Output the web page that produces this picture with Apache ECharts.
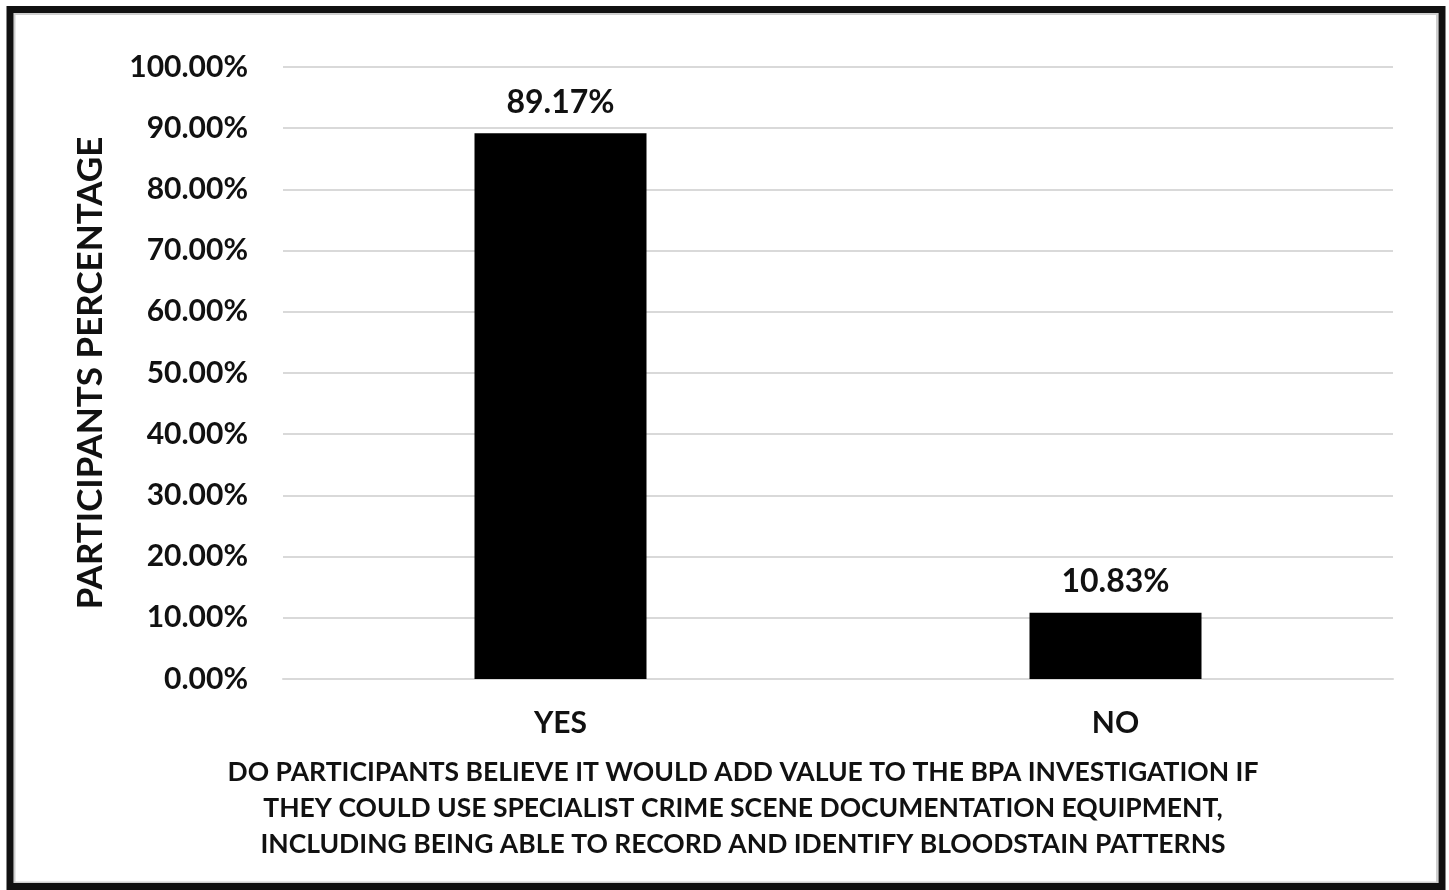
<!DOCTYPE html>
<html>
<head>
<meta charset="utf-8">
<script src="https://cdn.jsdelivr.net/npm/echarts@6/dist/echarts.min.js"></script>
<style>
  html, body { margin: 0; padding: 0; background: #ffffff; }
  #chart { width: 1449px; height: 890px; }
</style>
</head>
<body>
<div id="chart"></div>
<script>
// Survey answers and share of participants (%)
const categories = ['YES', 'NO'];
const percentages = [89.17, 10.83];
const yTicks = [0, 10, 20, 30, 40, 50, 60, 70, 80, 90, 100];
const xAxisTitle = 'DO PARTICIPANTS BELIEVE IT WOULD ADD VALUE TO THE BPA INVESTIGATION IF\nTHEY COULD USE SPECIALIST CRIME SCENE DOCUMENTATION EQUIPMENT,\nINCLUDING BEING ABLE TO RECORD AND IDENTIFY BLOODSTAIN PATTERNS';
const yAxisTitle = 'PARTICIPANTS PERCENTAGE';

const FONT = 'Lato, "Open Sans", sans-serif';
const chart = echarts.init(document.getElementById('chart'), null, { renderer: 'canvas' });

chart.setOption({
  backgroundColor: '#ffffff',
  animation: false,
  graphic: [
    {
      // thin grey inner edge of the frame
      type: 'rect',
      shape: { x: 14.5, y: 14, width: 1422.5, height: 868.5 },
      style: { fill: 'none', stroke: '#cfcfcf', lineWidth: 2 },
      z: 99
    },
    {
      type: 'rect',
      shape: { x: 10, y: 9.5, width: 1432, height: 877 },
      style: { fill: 'none', stroke: '#111111', lineWidth: 7 },
      z: 100
    },
    {
      // category axis title, centred on the whole chart box
      type: 'text',
      x: 743,
      y: 754,
      style: {
        text: xAxisTitle,
        fill: '#111',
        font: 'bold 26.5px ' + FONT,
        lineHeight: 36,
        align: 'center',
        verticalAlign: 'top'
      }
    }
  ],
  grid: { left: 283, right: 56, top: 67, bottom: 211 },
  xAxis: {
    type: 'category',
    data: categories,
    axisLine: { show: true, lineStyle: { color: '#d9d9d9', width: 2 } },
    axisTick: { show: false },
    axisLabel: { color: '#111', fontFamily: FONT, fontWeight: 'bold', fontSize: 30, margin: 29 }
  },
  yAxis: {
    type: 'value',
    min: yTicks[0],
    max: yTicks[yTicks.length - 1],
    interval: yTicks[1] - yTicks[0],
    axisLine: { show: false },
    axisTick: { show: false },
    splitLine: { lineStyle: { color: '#d9d9d9', width: 2 } },
    axisLabel: {
      color: '#111', fontFamily: FONT, fontWeight: 'bold', fontSize: 30, margin: 35,
      formatter: v => v.toFixed(2) + '%'
    },
    name: yAxisTitle,
    nameLocation: 'middle',
    nameRotate: 90,
    nameGap: 175,
    nameTextStyle: { color: '#111', fontFamily: FONT, fontWeight: 'bold', fontSize: 35 }
  },
  series: [
    {
      type: 'bar',
      data: percentages,
      barWidth: 172,
      itemStyle: { color: '#000000' },
      label: {
        show: true,
        position: 'top',
        distance: 15,
        color: '#111',
        fontFamily: FONT,
        fontWeight: 'bold',
        fontSize: 32,
        formatter: p => p.value.toFixed(2) + '%'
      }
    }
  ]
});
</script>
</body>
</html>
